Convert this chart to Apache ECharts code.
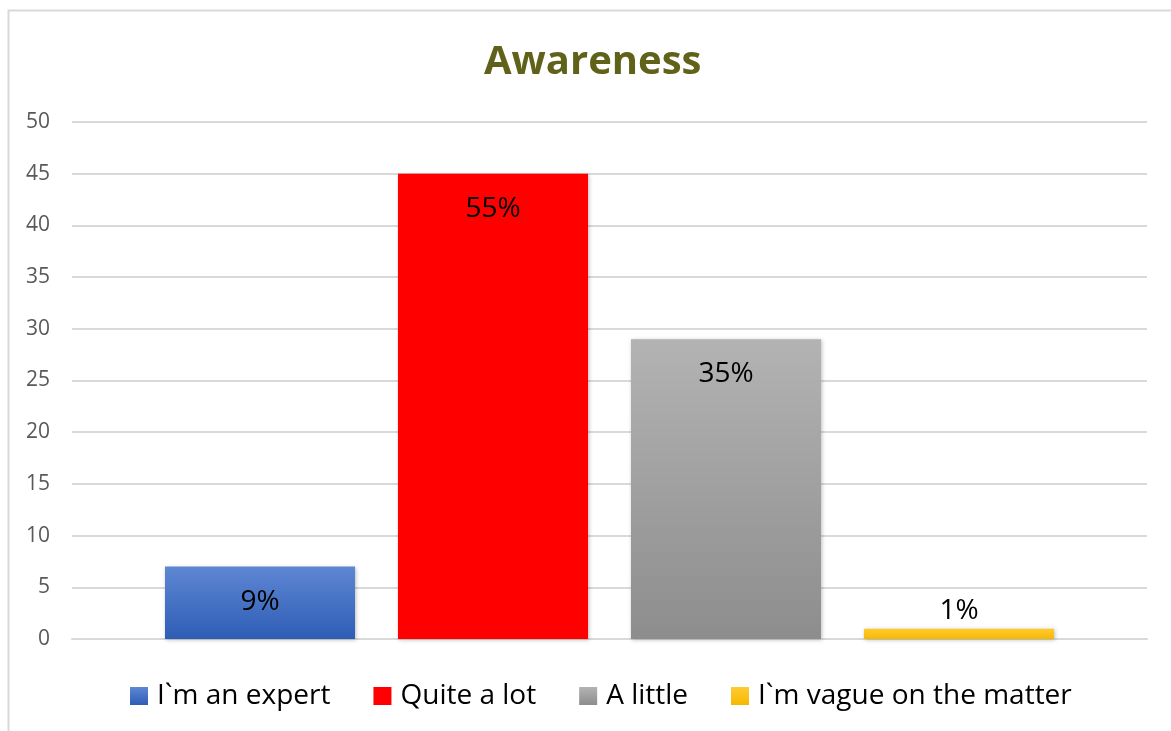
<!DOCTYPE html>
<html>
<head>
<meta charset="utf-8">
<script src="https://cdn.jsdelivr.net/npm/echarts@6/dist/echarts.min.js"></script>
<style>
  html, body { margin: 0; padding: 0; background: #fff; }
  #app { width: 1171px; height: 731px; }
</style>
</head>
<body>
<div id="app"></div>
<script>
// chart data
const seriesNames = ['I`m an expert', 'Quite a lot', 'A little', 'I`m vague on the matter'];
const seriesValues = [7, 45, 29, 1];
const seriesLabels = ['9%', '55%', '35%', '1%'];
const yTicks = [0, 5, 10, 15, 20, 25, 30, 35, 40, 45, 50];

const font = 'Open Sans, Noto Sans, sans-serif';

// top/bottom colours of each bar gradient
const barColors = [
  ['#5e87d3', '#2e5db5'],
  ['#ff0000', '#ff0000'],
  ['#b3b3b3', '#8d8d8d'],
  ['#ffcb33', '#f5b800']
];

const myChart = echarts.init(document.getElementById('app'));

const series = seriesNames.map((name, i) => ({
  name: name,
  type: 'bar',
  data: [seriesValues[i]],
  barGap: '22.6%',
  barCategoryGap: '17.3%',
  itemStyle: {
    color: new echarts.graphic.LinearGradient(0, 0, 0, 1, [
      { offset: 0, color: barColors[i][0] },
      { offset: 1, color: barColors[i][1] }
    ]),
    shadowColor: 'rgba(0,0,0,0.25)',
    shadowBlur: 4,
    shadowOffsetX: 1,
    shadowOffsetY: 1
  },
  label: {
    show: true,
    //small bar -> label above it
    position: seriesValues[i] < 5 ? 'top' : 'insideTop',
    distance: seriesValues[i] < 5 ? 4 : 21,
    formatter: () => seriesLabels[i],
    color: '#000',
    fontSize: 28,
    fontFamily: font
  }
}));

const option = {
  backgroundColor: '#fff',
  title: {
    text: 'Awareness',
    left: 479,
    top: 38,
    textStyle: {
      color: '#61621a',
      fontSize: 40,
      fontWeight: 'bold',
      fontFamily: font
    }
  },
  graphic: [
    {
      //outer frame
      type: 'rect',
      shape: { x: 8.5, y: 10.5, width: 1300, height: 900 },
      style: { fill: null, stroke: '#d9d9d9', lineWidth: 2 },
      silent: true
    }
  ],
  legend: {
    bottom: 16,
    left: 125,
    itemWidth: 18,
    itemHeight: 18,
    itemGap: 43,
    icon: 'rect',
    data: seriesNames,
    textStyle: {
      color: '#000',
      fontSize: 28,
      fontFamily: font,
      padding: [0, 0, 0, 4]
    }
  },
  grid: {
    left: 72,
    right: 24,
    top: 122,
    bottom: 92
  },
  xAxis: {
    type: 'category',
    data: [''],
    axisTick: { show: false },
    axisLabel: { show: false },
    axisLine: { lineStyle: { color: '#d9d9d9', width: 2 } }
  },
  yAxis: {
    type: 'value',
    min: yTicks[0],
    max: yTicks[yTicks.length - 1],
    interval: 5,
    axisLine: { show: false },
    axisTick: { show: false },
    axisLabel: {
      color: '#595959',
      fontSize: 21,
      fontFamily: font,
      margin: 22
    },
    splitLine: { lineStyle: { color: '#d9d9d9', width: 2 } }
  },
  series: series
};

myChart.setOption(option);
</script>
</body>
</html>
